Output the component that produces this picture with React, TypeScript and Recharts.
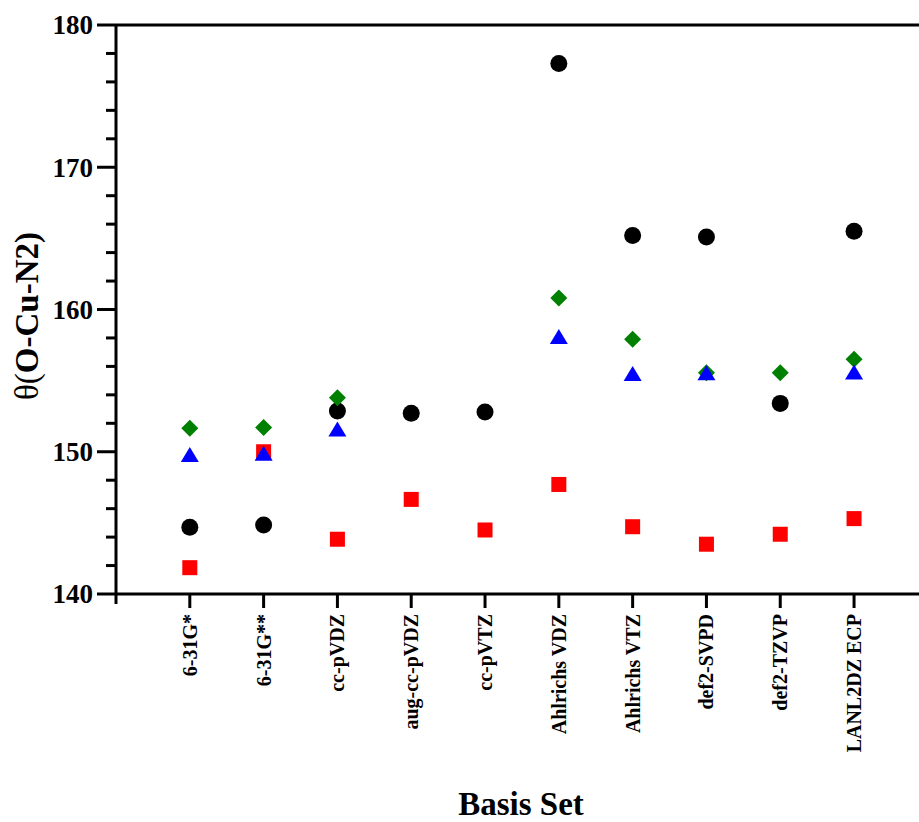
import {
  ScatterChart,
  Scatter,
  XAxis,
  YAxis,
  ReferenceLine,
} from "recharts";

const basisSets = [
  "6-31G*",
  "6-31G**",
  "cc-pVDZ",
  "aug-cc-pVDZ",
  "cc-pVTZ",
  "Ahlrichs VDZ",
  "Ahlrichs VTZ",
  "def2-SVPD",
  "def2-TZVP",
  "LANL2DZ ECP",
];

// theta(O-Cu-N2) per basis set, null where there is no point
const circleVals = [144.7, 144.85, 152.87, 152.7, 152.8, 177.3, 165.2, 165.1, 153.4, 165.5];
const squareVals = [141.85, 150.0, 143.85, 146.65, 144.5, 147.7, 144.73, 143.5, 144.2, 145.3];
const diamondVals = [151.65, 151.7, 153.8, null, null, 160.8, 157.9, 155.55, 155.55, 156.5];
const triangleVals = [149.8, 149.9, 151.6, null, null, 158.1, 155.5, 155.55, null, 155.6];

const yTicks = [140, 142, 144, 146, 148, 150, 152, 154, 156, 158, 160, 162, 164, 166, 168, 170, 172, 174, 176, 178, 180];
const yMajor = [140, 150, 160, 170, 180];
const xTicks = [0, 1, 2, 3, 4, 5, 6, 7, 8, 9, 10];

const toPoints = (vals: (number | null)[]) =>
  vals
    .map((v, i) => ({ x: i + 1, y: v }))
    .filter((p) => p.y !== null);

const FONT = "Liberation Serif";

const Circle = ({ cx, cy }: any) => <circle cx={cx} cy={cy} r={8.5} fill="#000" />;
const Square = ({ cx, cy }: any) => (
  <rect x={cx - 7.5} y={cy - 7.5} width={15} height={15} fill="#ff0000" />
);
const Diamond = ({ cx, cy }: any) => (
  <polygon
    points={`${cx},${cy - 8.5} ${cx + 8.5},${cy} ${cx},${cy + 8.5} ${cx - 8.5},${cy}`}
    fill="#008000"
  />
);
const Triangle = ({ cx, cy }: any) => (
  <polygon
    points={`${cx},${cy - 7.5} ${cx + 9},${cy + 7.5} ${cx - 9},${cy + 7.5}`}
    fill="#0000ff"
  />
);

const YTick = ({ x, y, payload }: any) => {
  const major = yMajor.includes(payload.value);
  return (
    <g>
      <line x1={x - (major ? 19 : 10)} x2={x} y1={y} y2={y} stroke="#000" strokeWidth={3} />
      {major && (
        <text
          x={x - 23}
          y={y}
          dy="0.35em"
          textAnchor="end"
          style={{ fontFamily: FONT, fontWeight: "bold", fontSize: 27 }}
          fill="#000"
        >
          {payload.value}
        </text>
      )}
    </g>
  );
};

const XTick = ({ x, y, payload }: any) => {
  const v = payload.value;
  if (v === 0) {
    return <line x1={x} x2={x} y1={y} y2={y + 10} stroke="#000" strokeWidth={3} />;
  }
  return (
    <g>
      <line x1={x} x2={x} y1={y} y2={y + 14} stroke="#000" strokeWidth={3} />
      <text
        transform={`translate(${x},${y + 20}) rotate(-90)`}
        dy="0.35em"
        textAnchor="end"
        style={{ fontFamily: FONT, fontWeight: "bold", fontSize: 20 }}
        fill="#000"
      >
        {basisSets[v - 1]}
      </text>
    </g>
  );
};

export default function App() {
  return (
    <div style={{ position: "absolute", left: 0, top: 0 }}>
      <ScatterChart
        width={919}
        height={822}
        margin={{ top: 25, right: 0, bottom: 0, left: 0 }}
      >
        <XAxis
          type="number"
          dataKey="x"
          domain={[0, 10.88]}
          ticks={xTicks}
          interval={0}
          allowDataOverflow
          height={228}
          tickSize={0}
          tickMargin={0}
          tickLine={false}
          axisLine={{ stroke: "#000", strokeWidth: 3 }}
          tick={<XTick />}
          label={{
            value: "Basis Set",
            content: () => (
              <text
                x={521}
                y={815}
                textAnchor="middle"
                style={{ fontFamily: FONT, fontWeight: "bold", fontSize: 33 }}
                fill="#000"
              >
                Basis Set
              </text>
            ),
          }}
        />
        <YAxis
          type="number"
          dataKey="y"
          domain={[140, 180]}
          ticks={yTicks}
          interval={0}
          allowDataOverflow
          width={116}
          tickSize={0}
          tickMargin={0}
          tickLine={false}
          axisLine={{ stroke: "#000", strokeWidth: 3 }}
          tick={<YTick />}
          label={{
            value: "θ(O-Cu-N2)",
            content: () => (
              <text
                transform="translate(38,316) rotate(-90)"
                textAnchor="middle"
                style={{ fontFamily: FONT, fontSize: 33 }}
                fill="#000"
              >
                <tspan>θ(</tspan>
                <tspan style={{ fontWeight: "bold" }}>O-Cu-N2)</tspan>
              </text>
            ),
          }}
        />
        <ReferenceLine y={180} stroke="#000" strokeWidth={3} />
        <Scatter data={toPoints(circleVals)} shape={<Circle />} isAnimationActive={false} />
        <Scatter data={toPoints(squareVals)} shape={<Square />} isAnimationActive={false} />
        <Scatter data={toPoints(diamondVals)} shape={<Diamond />} isAnimationActive={false} />
        <Scatter data={toPoints(triangleVals)} shape={<Triangle />} isAnimationActive={false} />
      </ScatterChart>
    </div>
  );
}
